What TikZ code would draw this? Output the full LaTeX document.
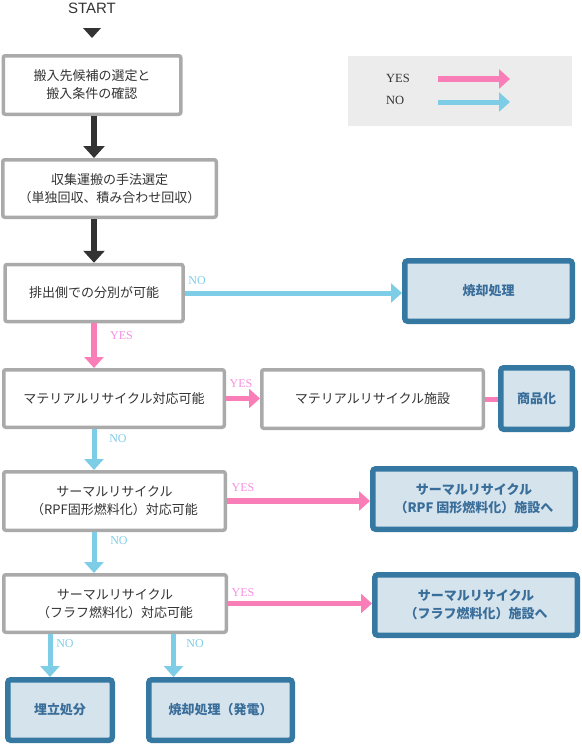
\documentclass[tikz,border=0pt]{standalone}
\usepackage{fontspec}
\setmainfont{Liberation Serif}
\newfontfamily\jp{Noto Sans CJK JP}
\newfontfamily\startfont{Liberation Sans}
\usetikzlibrary{arrows.meta}
\usetikzlibrary{positioning}
\definecolor{yespink}{HTML}{F97DB6}
\definecolor{nocyan}{HTML}{7DCDE6}
\definecolor{yeslbl}{HTML}{F68FE3}
\definecolor{endblue}{HTML}{3579A3}
\definecolor{endfill}{HTML}{D5E3ED}
\definecolor{endtext}{HTML}{3A6E9A}
\definecolor{stepgray}{HTML}{AAAAAA}
\definecolor{keygray}{HTML}{ECECEC}
\definecolor{darkarr}{HTML}{333333}

\begin{document}
\begin{tikzpicture}[x=1pt,y=-1pt,
      stepbox/.style={draw=stepgray,line width=3.5pt,rounded corners=2pt,fill=white,align=center,
         text=darkarr,font=\jp\fontsize{13}{18}\selectfont},
      endbox/.style={draw=endblue,line width=5.5pt,rounded corners=3pt,fill=endfill,align=center,
         text=endtext,font=\jp\bfseries\fontsize{13}{18}\selectfont},
      mainarr/.style={-{Triangle[width=21pt,length=12pt]},darkarr,line width=6.5pt},
      yesarr/.style={-{Triangle[width=19pt,length=11pt]},yespink,line width=5.5pt},
      noarr/.style={-{Triangle[width=19pt,length=11pt]},nocyan,line width=5pt},
      yestxt/.style={text=yeslbl,inner sep=0pt,font=\fontsize{12}{12}\selectfont},
      notxt/.style={text=nocyan,inner sep=0pt,font=\fontsize{12}{12}\selectfont}]
      \useasboundingbox (0,0) rectangle (581,744);
      %
         \node (start) at (92,8) [text=darkarr,inner sep=0pt] {\startfont\fontsize{15}{15}\selectfont START};
         \fill[darkarr] (83,28) -- (101,28) -- (92,38) -- cycle;
         \coordinate (spine) at (94,0);
      %
         \node (key) at (460,91) [fill=keygray,minimum width=224,minimum height=70,inner sep=0pt] {};
         \node (keyyes) at (386,78) [anchor=west,text=darkarr,inner sep=0pt,font=\fontsize{12.5}{12.5}\selectfont] {YES};
         \node (keyno) at (386,100) [anchor=west,text=darkarr,inner sep=0pt,font=\fontsize{12.5}{12.5}\selectfont] {NO};
         \coordinate (ya) at (438,79);
         \coordinate (yb) at (510,79);
         \coordinate (na) at (438,102);
         \coordinate (nb) at (510,102);
         \draw[yesarr](ya)--(yb);
         \draw[noarr](na)--(nb);
      %%
         \node (b1) at (92,85) [stepbox,minimum width=177.5,minimum height=58.5] {搬入先候補の選定と\\搬入条件の確認};
         \node (b2) at (109.5,188.5) [stepbox,minimum width=213.5,minimum height=57.5] {収集運搬の手法選定\\（単独回収、積み合わせ回収）};
         \node (b3) at (94,293) [stepbox,minimum width=178,minimum height=57] {排出側での分別が可能};
         \draw[mainarr](b1.south -| spine)--(b2.north -| spine);
         \draw[mainarr](b2.south -| spine)--(b3.north -| spine);
      %
         \node (burn) at (488.5,291) [endbox,minimum width=167.5,minimum height=60.5] {焼却処理};
         \draw[noarr](b3.east)--(b3.east -| burn.west);
         \node (no1) at (197,281) [notxt] {NO};
      %%
         \node (b4) at (114,398.5) [stepbox,minimum width=220.5,minimum height=57.5] {マテリアルリサイクル対応可能};
         \draw[yesarr](b3.south -| spine)--(b4.north -| spine);
         \node (yes1) at (121.5,336) [yestxt] {YES};
         \node (mrf) at (372.5,399) [stepbox,minimum width=221.5,minimum height=58.5] {マテリアルリサイクル施設};
         \draw[yesarr](b4.east)--(b4.east -| mrf.west);
         \node (yes2) at (241,384) [yestxt] {YES};
         \node (prod) at (536.5,398.5) [endbox,minimum width=71.5,minimum height=61.5] {商品化};
         \draw[yespink,line width=5pt](mrf.east)--(mrf.east -| prod.west);
      %%
         \node (b5) at (114.5,501) [stepbox,minimum width=221.5,minimum height=58.5] {サーマルリサイクル\\（RPF固形燃料化）対応可能};
         \draw[noarr](b4.south -| spine)--(b5.north -| spine);
         \node (no2) at (118,439) [notxt] {NO};
         \node (rpf) at (474,499) [endbox,minimum width=202.5,minimum height=60.5] {サーマルリサイクル\\（RPF 固形燃料化）施設へ};
         \draw[yesarr](b5.east)--(b5.east -| rpf.west);
         \node (yes3) at (243,488) [yestxt] {YES};
      %%
         \node (b6) at (115,603.5) [stepbox,minimum width=222.5,minimum height=57.5] {サーマルリサイクル\\（フラフ燃料化）対応可能};
         \draw[noarr](b5.south -| spine)--(b6.north -| spine);
         \node (no3) at (119,541) [notxt] {NO};
         \node (fluff) at (476,605) [endbox,minimum width=202.5,minimum height=60.5] {サーマルリサイクル\\（フラフ燃料化）施設へ};
         \draw[yesarr](b6.east)--(b6.east -| fluff.west);
         \node (yes4) at (243,593) [yestxt] {YES};
      %%
         \node (land) at (60,710) [endbox,minimum width=104.5,minimum height=60.5] {埋立処分};
         \node (burn2) at (220.5,710) [endbox,minimum width=143.5,minimum height=60.5] {焼却処理（発電）};
         \coordinate (l1) at ([xshift=-10pt]land.north);
         \coordinate (l2) at ([xshift=-47pt]burn2.north);
         \draw[noarr](l1 |- b6.south)--(l1);
         \draw[noarr](l2 |- b6.south)--(l2);
         \node (no4) at (65,644) [notxt] {NO};
         \node (no5) at (195,644) [notxt] {NO};
   \end{tikzpicture}
\end{document}
